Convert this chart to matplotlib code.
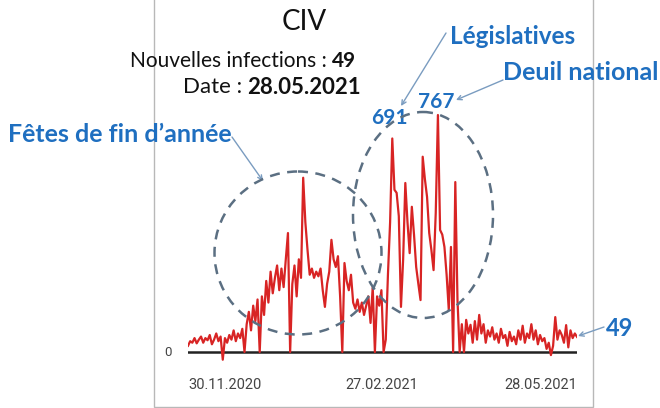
import numpy as np
import pandas as pd
import matplotlib
matplotlib.use("Agg")
import matplotlib.pyplot as plt
from matplotlib.patches import Ellipse, Rectangle

# Nouvelles infections journalières, CIV, 30.11.2020 -> 28.05.2021
start_date = "2020-11-30"
end_date = "2021-05-28"
cases = [
    20, 35, 30, 45, 28, 40, 50, 30, 45, 38,
    55, 25, 40, 60, 35, 50, -25, 45, 30, 55,
    40, 70, 35, 60, 45, 75, 0, 90, 130, 70,
    150, 100, 170, 0, 180, 120, 230, 160, 260, 190,
    240, 280, 200, 270, 210, 300, 385, 0, 220, 280,
    180, 300, 240, 564, 420, 330, 250, 270, 240, 260,
    245, 270, 200, 146, 220, 260, 363, 300, 275, 310,
    180, 0, 288, 230, 200, 250, 160, 140, 170, 130,
    160, 120, 150, 180, 94, 210, 0, 180, 150, 200,
    0, 40, 250, 420, 691, 525, 515, 440, 146, 300,
    547, 420, 320, 470, 380, 275, 220, 168, 632, 560,
    502, 385, 330, 265, 450, 767, 395, 380, 340, 250,
    136, 340, 0, 550, 170, 0, 90, 0, 104, 60,
    88, 30, 100, 40, 120, 60, 90, 30, 70, 50,
    80, 40, 60, 30, 75, 45, 55, 20, 65, 35,
    50, 25, 70, 40, 85, 30, 60, 45, 90, 40,
    70, 25, 55, 35, 45, 10, 30, -10, 20, 113,
    40, 70, 55, 30, 87, 15, 70, 45, 60, 49,
]
tick_dates = ["2020-11-30", "2021-02-27", "2021-05-28"]
tick_labels = ["30.11.2020", "27.02.2021", "28.05.2021"]

dates = pd.date_range(start_date, end_date, freq="D")
series = pd.Series(cases, index=dates)

W, H = 660, 408
BLUE = "#1f6fc0"
ARROW = "#7a9cc0"
DASH = "#5b6f82"

fig = plt.figure(figsize=(W / 100, H / 100), dpi=100)
fig.patch.set_facecolor("white")

# axe des données : pixels x 188..577, y 100..365 (0 à y=352)
left, right, top, bottom = 188, 577, 100, 365
ax = fig.add_axes([left / W, (H - bottom) / H, (right - left) / W, (bottom - top) / H])
px_per_unit = 237 / 767
ax.set_ylim(-(bottom - 352) / px_per_unit, (352 - top) / px_per_unit)
ax.set_xlim(dates[0], dates[-1])
ax.plot(series.index, series.values, color="#d82424", lw=1.6, solid_joinstyle="round", zorder=3)
ax.axhline(0, color="#222222", lw=1.8, zorder=2)
ax.axis("off")

for d, lab, ha in zip(tick_dates, tick_labels, ["left", "center", "right"]):
    ax.annotate(lab, xy=(pd.Timestamp(d), 0), xytext=(0, -33), textcoords="offset pixels",
                ha=ha, va="center", fontsize=10.5, family="Roboto", color="#444444")
ax.annotate("0", xy=(dates[0], 0), xytext=(-20, 0), textcoords="offset pixels",
            ha="center", va="center", fontsize=9.5, family="Roboto", color="#444444")

# calque d'annotations en pixels
ov = fig.add_axes([0, 0, 1, 1], facecolor="none")
ov.set_xlim(0, W)
ov.set_ylim(H, 0)
ov.axis("off")

ov.add_patch(Rectangle((154, -5), 593 - 154, 407 - (-5), fill=False, ec="#b8b8b8", lw=1.0))

ov.text(304, 22, "CIV", ha="center", va="center", fontsize=20, family="Lato", color="#111111")
ov.text(327, 61, "Nouvelles infections :", ha="right", va="center", fontsize=15,
        family="Lato", color="#111111")
ov.text(332, 61, "49", ha="left", va="center", fontsize=15, family="Lato",
        weight="bold", color="#111111")
ov.text(242, 87, "Date :", ha="right", va="center", fontsize=16, family="Lato", color="#111111")
ov.text(247, 87, "28.05.2021", ha="left", va="center", fontsize=16, family="Lato",
        weight="bold", color="#111111")

labels = [
    ("Fêtes de fin d’année", 8, 134, "left", 18),
    ("Législatives", 450, 36, "left", 17.5),
    ("Deuil national", 503, 72, "left", 18),
    ("691", 389, 118, "center", 15),
    ("767", 436, 102, "center", 15),
    ("49", 620, 328, "center", 17),
]
for txt, x, y, ha, fs in labels:
    ov.text(x, y, txt, ha=ha, va="center", fontsize=fs, family="Lato", weight="bold", color=BLUE)

arrows = [((232, 137), (263, 181)), ((446, 33), (401, 106)),
          ((503, 80), (456, 100)), ((604, 327), (578, 336))]
for (x0, y0), (x1, y1) in arrows:
    ov.annotate("", xy=(x1, y1), xytext=(x0, y0),
                arrowprops=dict(arrowstyle="->", color=ARROW, lw=1.0, shrinkA=0, shrinkB=0,
                                mutation_scale=8))

ov.add_patch(Ellipse((298, 253), 167, 163, fill=False, ec=DASH, lw=1.8, ls=(0, (4, 3)), zorder=4))
ov.add_patch(Ellipse((423, 215), 140, 206, fill=False, ec=DASH, lw=1.8, ls=(0, (4, 3)), zorder=4))

fig.savefig("out.png", dpi=100)
